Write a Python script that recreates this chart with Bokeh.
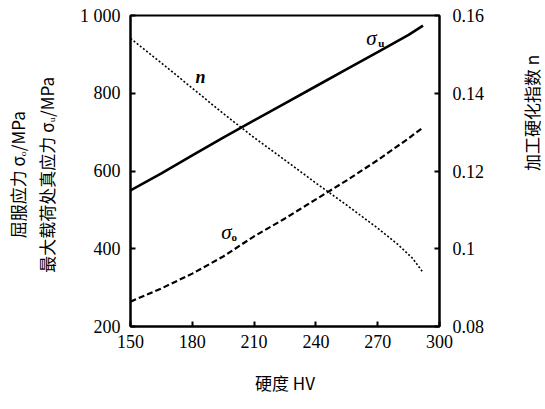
import math
from bokeh.plotting import figure
from bokeh.models import Range1d, LinearAxis, FixedTicker, Label
from bokeh.embed import file_html
from bokeh.resources import INLINE

# ---- data ----
hv_su = [150, 165, 180, 195, 210, 225, 240, 255, 270, 285, 292]
sigma_u = [550, 594, 640, 686, 730, 774, 818, 862, 906, 950, 974]

hv_so = [150, 165, 180, 195, 210, 225, 240, 255, 270, 285, 292]
sigma_o = [264, 298, 336, 380, 432, 478, 527, 576, 628, 684, 712]

hv_n = [150, 165, 180, 195, 210, 225, 240, 255, 270, 280, 287, 292]
n_vals = [0.1541, 0.1478, 0.1413, 0.1348, 0.1286, 0.1228, 0.1169, 0.1112, 0.1053, 0.1010, 0.0975, 0.0939]

x_ticks = [150, 180, 210, 240, 270, 300]
y_ticks = [200, 400, 600, 800, 1000]
n_ticks = [0.08, 0.10, 0.12, 0.14, 0.16]

SERIF = "Liberation Serif"
CJK = "Noto Sans CJK SC"

p = figure(width=545, height=409, output_backend="svg", toolbar_location=None,
           x_range=Range1d(150, 300), y_range=Range1d(200, 1000),
           frame_width=309, frame_height=311,
           min_border_left=130, min_border_right=106, min_border_top=15, min_border_bottom=83)
p.extra_y_ranges = {"n": Range1d(0.08, 0.16)}
p.xgrid.visible = False
p.ygrid.visible = False
p.outline_line_color = "black"
p.outline_line_width = 2
p.outline_line_alpha = 1

right = LinearAxis(y_range_name="n")
p.add_layout(right, "right")

for ax in [p.xaxis[0], p.yaxis[0], right]:
    ax.axis_line_width = 2
    ax.axis_line_color = "black"
    ax.major_tick_in = 5
    ax.major_tick_out = 0
    ax.major_tick_line_width = 2
    ax.minor_tick_line_color = None
    ax.major_label_text_font = SERIF
    ax.major_label_text_font_size = "18px"
    ax.major_label_text_color = "black"
    ax.axis_label_text_font = CJK
    ax.axis_label_text_font_size = "17px"
    ax.axis_label_text_font_style = "normal"
    ax.axis_label_text_color = "black"

p.xaxis[0].ticker = FixedTicker(ticks=x_ticks)
p.xaxis[0].major_label_standoff = 8
p.xaxis[0].axis_label = "硬度 HV"
p.xaxis[0].axis_label_standoff = 19

p.yaxis[0].ticker = FixedTicker(ticks=y_ticks)
p.yaxis[0].major_label_overrides = {1000: "1 000"}
p.yaxis[0].major_label_standoff = 10
p.yaxis[0].axis_label = "屈服应力   σₒ/MPa\n最大载荷处真应力   σᵤ/MPa"
p.yaxis[0].axis_label_standoff = 18
p.yaxis[0].axis_label_text_line_height = 1.15

right.ticker = FixedTicker(ticks=n_ticks)
right.major_label_overrides = {0.1: "0.1"}
right.major_label_standoff = 13
right.axis_label = "加工硬化指数   n"
right.axis_label_standoff = 44
right.axis_label_orientation = math.pi / 2

# curves
p.line(hv_su, sigma_u, line_color="black", line_width=2.6)
p.line(hv_so, sigma_o, line_color="black", line_width=2.2, line_dash="6 3")
p.line(hv_n, n_vals, y_range_name="n", line_color="black", line_width=1.6, line_dash="2 2")

# curve labels
def lab(x, y, t, size, style="italic"):
    p.add_layout(Label(x=x, y=y, text=t, text_font=SERIF, text_font_size=size,
                       text_font_style=style, text_align="center", text_baseline="middle",
                       text_color="black"))

lab(267.0, 943, "σ", "21px")
lab(271.8, 928, "u", "11px", style="bold")
lab(196.6, 442, "σ", "21px")
lab(200.4, 430, "o", "11px", style="bold")
lab(184.0, 843, "n", "18px", style="bold italic")

open("out.html", "w").write(file_html(p, INLINE))
